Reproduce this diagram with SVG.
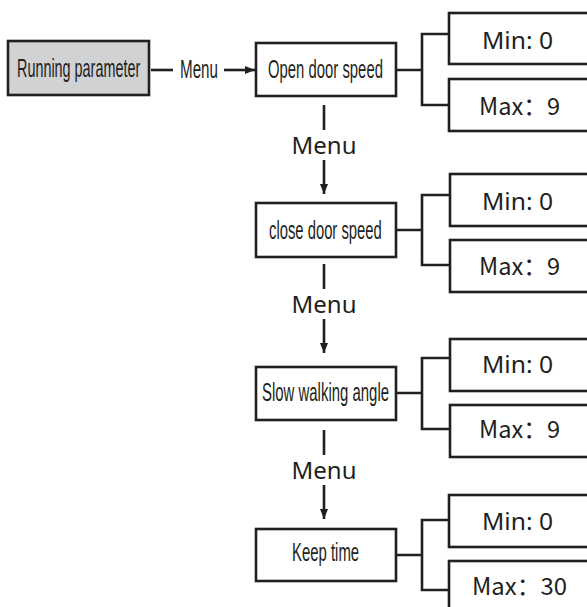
<svg xmlns="http://www.w3.org/2000/svg" width="587" height="607" viewBox="0 0 587 607">
<style>
.box{fill:#fff;stroke:#231f20;stroke-width:2.6}
.gray{fill:#d1d2d4}
.ln{fill:none;stroke:#231f20;stroke-width:2.6}
.cn{font-family:"Liberation Sans",Arial,sans-serif;font-size:26px;fill:#231f20}
.wd{font-family:"Noto Sans","Noto Sans CJK SC",sans-serif;font-size:24px;fill:#231f20}
.mx{font-family:"Noto Sans CJK SC","Noto Sans",sans-serif;font-size:24px;fill:#231f20}
</style>
<defs>
<marker id="ah" markerWidth="10" markerHeight="8" refX="10" refY="4" orient="auto" markerUnits="userSpaceOnUse">
<path d="M0,0 L10,4 L0,8 Z" fill="#231f20"/>
</marker>
</defs>
<rect width="587" height="607" fill="#fff"/>
<g id="connectors">
<line class="ln" x1="151" y1="70" x2="173" y2="70"/>
<text class="cn" transform="translate(180,78) scale(0.55,1)" textLength="69" lengthAdjust="spacingAndGlyphs">Menu</text>
<line class="ln" x1="224" y1="70" x2="255" y2="70" marker-end="url(#ah)"/>
<line class="ln" x1="324" y1="105" x2="324" y2="130"/>
<text class="wd" x="324" y="154" text-anchor="middle" textLength="65" lengthAdjust="spacingAndGlyphs">Menu</text>
<line class="ln" x1="324" y1="160" x2="324" y2="194" marker-end="url(#ah)"/>
<line class="ln" x1="324" y1="264" x2="324" y2="289"/>
<text class="wd" x="324" y="313" text-anchor="middle" textLength="65" lengthAdjust="spacingAndGlyphs">Menu</text>
<line class="ln" x1="324" y1="319" x2="324" y2="353" marker-end="url(#ah)"/>
<line class="ln" x1="324" y1="430" x2="324" y2="455"/>
<text class="wd" x="324" y="479" text-anchor="middle" textLength="65" lengthAdjust="spacingAndGlyphs">Menu</text>
<line class="ln" x1="324" y1="485" x2="324" y2="519" marker-end="url(#ah)"/>
<path class="ln" d="M396,70 H422 M449,34 H422 V105 H449"/>
<path class="ln" d="M396,230 H422 M449,195 H422 V265 H449"/>
<path class="ln" d="M396,393 H422 M449,358 H422 V429 H449"/>
<path class="ln" d="M396,555 H422 M449,520 H422 V590 H449"/>
</g>
<g id="running-parameter">
<rect class="box gray" x="8" y="41" width="141" height="54"/>
<text class="cn" transform="translate(17,77) scale(0.55,1)" textLength="224" lengthAdjust="spacingAndGlyphs">Running parameter</text>
</g>
<g id="open-door-speed">
<rect class="box" x="256" y="43" width="140" height="53"/>
<text class="cn" transform="translate(268,78) scale(0.55,1)" textLength="209" lengthAdjust="spacingAndGlyphs">Open door speed</text>
</g>
<g id="open-min"><rect class="box" x="449" y="13" width="160" height="51"/><text class="wd" x="482" y="49" textLength="71" lengthAdjust="spacingAndGlyphs">Min: 0</text></g>
<g id="open-max"><rect class="box" x="449" y="79" width="160" height="52"/><text class="mx" x="479" y="115" textLength="81" lengthAdjust="spacingAndGlyphs">Max：9</text></g>
<g id="close-door-speed">
<rect class="box" x="256" y="203" width="140" height="54"/>
<text class="cn" transform="translate(269,239) scale(0.55,1)" textLength="205" lengthAdjust="spacingAndGlyphs">close door speed</text>
</g>
<g id="close-min"><rect class="box" x="450" y="174" width="160" height="52"/><text class="wd" x="482" y="210" textLength="71" lengthAdjust="spacingAndGlyphs">Min: 0</text></g>
<g id="close-max"><rect class="box" x="450" y="240" width="160" height="52"/><text class="mx" x="479" y="275" textLength="81" lengthAdjust="spacingAndGlyphs">Max：9</text></g>
<g id="slow-walking-angle">
<rect class="box" x="256" y="367" width="140" height="53"/>
<text class="cn" transform="translate(262,401) scale(0.55,1)" textLength="231" lengthAdjust="spacingAndGlyphs">Slow walking angle</text>
</g>
<g id="slow-min"><rect class="box" x="450" y="339" width="160" height="52"/><text class="wd" x="482" y="373" textLength="71" lengthAdjust="spacingAndGlyphs">Min: 0</text></g>
<g id="slow-max"><rect class="box" x="450" y="405" width="160" height="52"/><text class="mx" x="479" y="438" textLength="81" lengthAdjust="spacingAndGlyphs">Max：9</text></g>
<g id="keep-time">
<rect class="box" x="256" y="529" width="140" height="52"/>
<text class="cn" transform="translate(292,561) scale(0.55,1)" textLength="122" lengthAdjust="spacingAndGlyphs">Keep time</text>
</g>
<g id="keep-min"><rect class="box" x="449" y="495" width="160" height="52"/><text class="wd" x="482" y="530" textLength="71" lengthAdjust="spacingAndGlyphs">Min: 0</text></g>
<g id="keep-max"><rect class="box" x="449" y="561" width="160" height="60"/><text class="mx" x="472" y="595" textLength="95" lengthAdjust="spacingAndGlyphs">Max：30</text></g>
</svg>
